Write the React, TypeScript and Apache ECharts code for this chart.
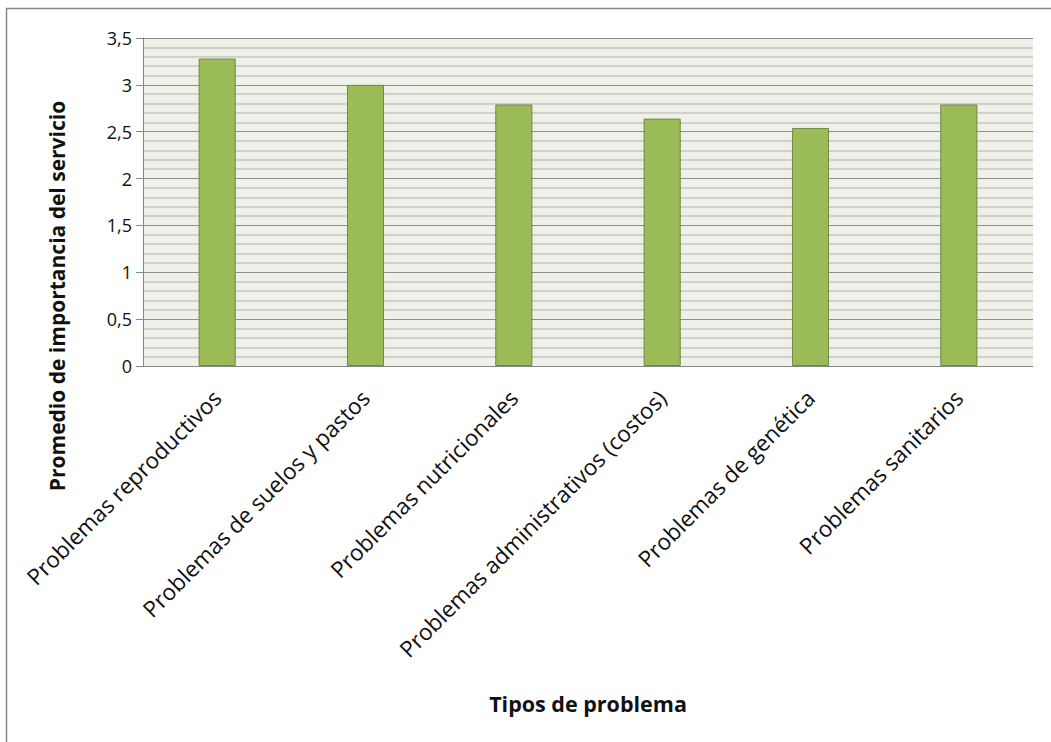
import React, { useEffect, useRef } from "react";
import * as echarts from "echarts";

const categories: string[] = [
  "Problemas reproductivos",
  "Problemas de suelos y pastos",
  "Problemas nutricionales",
  "Problemas administrativos (costos)",
  "Problemas de genética",
  "Problemas sanitarios",
];
const values: number[] = [3.28, 3.0, 2.79, 2.64, 2.54, 2.79];
const yTitle = "Promedio de importancia del servicio";
const xTitle = "Tipos de problema";

const FONT = "'Open Sans', sans-serif";

export default function App() {
  const ref = useRef<HTMLDivElement>(null);
  useEffect(() => {
    if (!ref.current) return;
    const chart = echarts.init(ref.current, null, { renderer: "svg" });
    chart.setOption({
      animation: false,
      backgroundColor: "#ffffff",
      grid: {
        left: 143,
        right: 18,
        top: 38,
        bottom: 376,
        show: true,
        backgroundColor: "#EFF1E8",
        borderWidth: 0,
      },
      xAxis: {
        type: "category",
        data: categories,
        axisLine: { show: true, lineStyle: { color: "#868686", width: 1 } },
        axisTick: { show: false },
        axisLabel: {
          rotate: 45,
          interval: 0,
          margin: 28,
          color: "#111",
          fontSize: 22.5,
          fontFamily: FONT,
        },
      },
      yAxis: {
        type: "value",
        min: 0,
        max: 3.5,
        interval: 0.5,
        axisLine: { show: true, lineStyle: { color: "#868686", width: 1 } },
        axisTick: { show: true, length: 7, inside: false, lineStyle: { color: "#868686" } },
        axisLabel: {
          margin: 11,
          color: "#111",
          fontSize: 18,
          fontFamily: FONT,
          formatter: (v: number) => String(v).replace(".", ","),
        },
        splitLine: { show: true, lineStyle: { color: "#8f8f8f", width: 1 } },
        minorTick: { show: false, splitNumber: 5 },
        minorSplitLine: { show: true, lineStyle: { color: "#c6c6c6", width: 1.5 } },
      },
      series: [
        {
          type: "bar",
          data: values,
          barWidth: "25%",
          itemStyle: { color: "#9BBB59", borderColor: "#71893F", borderWidth: 1 },
        },
      ],
      graphic: [
        {
          type: "rect",
          shape: { x: 6.5, y: 8.5, width: 1200, height: 900 },
          style: { fill: "none", stroke: "#868686", lineWidth: 1.5 },
          silent: true,
          z: 100,
        },
        {
          type: "text",
          x: 57,
          y: 296,
          rotation: Math.PI / 2,
          style: {
            text: yTitle,
            fontSize: 21,
            fontWeight: "bold",
            fontFamily: FONT,
            fill: "#111",
            textAlign: "center",
            textVerticalAlign: "middle",
          },
        },
        {
          type: "text",
          x: 588,
          y: 703,
          style: {
            text: xTitle,
            fontSize: 21.5,
            fontWeight: "bold",
            fontFamily: FONT,
            fill: "#111",
            textAlign: "center",
            textVerticalAlign: "middle",
          },
        },
      ],
    });
    return () => chart.dispose();
  }, []);
  return (
    <div
      ref={ref}
      style={{ position: "absolute", left: 0, top: 0, width: 1051, height: 742 }}
    />
  );
}
